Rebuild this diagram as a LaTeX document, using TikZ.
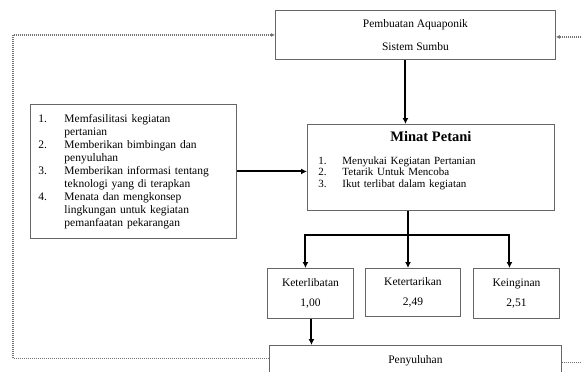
\documentclass[tikz,border=0pt]{standalone}
\usepackage{fontspec}
\setmainfont{Liberation Serif}
\usetikzlibrary{arrows.meta}
\newcommand\nomor[2][26pt]{\makebox[#1][l]{#2}}

\begin{document}
\begin{tikzpicture}[
    x=1pt, y=-1pt,
    kotak/.style={draw=black!60, line width=0.9pt, rectangle, inner sep=0pt,
        font=\fontsize{11.5}{13}\selectfont},
    panah/.style={-{Latex[length=6pt,width=6pt]}, line width=2pt},
    batang/.style={line width=2pt},
    balik/.style={draw=black!55, line width=1.2pt, dash pattern=on 1pt off 1pt,
        -{Latex[length=4pt,width=4pt]}}
]
\useasboundingbox[fill=white] (0,0) rectangle (582,372);
\node[kotak, anchor=north west, minimum width=280, minimum height=49, align=center]
    (sumber) at (275,10) {Pembuatan Aquaponik\\[10pt]Sistem Sumbu};
\node[kotak, anchor=north west, minimum width=206, minimum height=134,
    text width=190, align=left] (peran) at (30,104)
    {\nomor{1.}Memfasilitasi kegiatan\\
     \nomor{}pertanian\\
     \nomor{2.}Memberikan bimbingan dan\\
     \nomor{}penyuluhan\\
     \nomor{3.}Memberikan informasi tentang\\
     \nomor{}teknologi yang di terapkan\\
     \nomor{4.}Menata dan mengkonsep\\
     \nomor{}lingkungan untuk kegiatan\\
     \nomor{}pemanfaatan pekarangan};
\node[kotak, anchor=north west, minimum width=247, minimum height=86,
    text width=225, align=left, font=\fontsize{11}{11.5}\selectfont] (minat) at (307,124)
    {\centering{\fontsize{14.5}{15}\selectfont\bfseries Minat Petani}\par\vspace{11pt}
     \raggedright
     \nomor[24pt]{1.}Menyukai Kegiatan Pertanian\\
     \nomor[24pt]{2.}Tetarik Untuk Mencoba\\
     \nomor[24pt]{3.}Ikut terlibat dalam kegiatan\par\vspace{4pt}\hbox{}};
\node[kotak, anchor=north west, minimum width=86, minimum height=50, align=center]
    (libat) at (267,268) {Keterlibatan\\[7pt]1,00};
\node[kotak, anchor=north west, minimum width=95, minimum height=48, align=center]
    (tarik) at (365,268) {Ketertarikan\\[7pt]2,49};
\node[kotak, anchor=north west, minimum width=86, minimum height=50, align=center]
    (ingin) at (473,268) {Keinginan\\[7pt]2,51};
\node[kotak, anchor=north west, minimum width=292, minimum height=30, align=center]
    (suluh) at (269,345) {Penyuluhan};

\draw[panah] ([xshift=-10]sumber.south) -- ([xshift=-10]sumber.south |- minat.north);
\draw[panah] (peran.east) -- (peran.east -| minat.west);
\coordinate (cabang) at (408,235);
\draw[batang] (cabang |- minat.south) -- (cabang);
\draw[panah] ([xshift=1]cabang) -| ([xshift=-5]libat.north);
\draw[panah] (cabang) -- (cabang |- tarik.north);
\draw[panah] ([xshift=-1]cabang) -| ([xshift=-7]ingin.north);
\draw[panah] ([xshift=1]libat.south) -- ([xshift=1]libat.south |- suluh.north);

\draw[balik] ([yshift=2]suluh.west) -- ++(-256,0) |- (sumber.west);
\draw[balik] ([yshift=-2]suluh.east) -- ++(40,0) |- ([yshift=-2]sumber.east);
\end{tikzpicture}
\end{document}
